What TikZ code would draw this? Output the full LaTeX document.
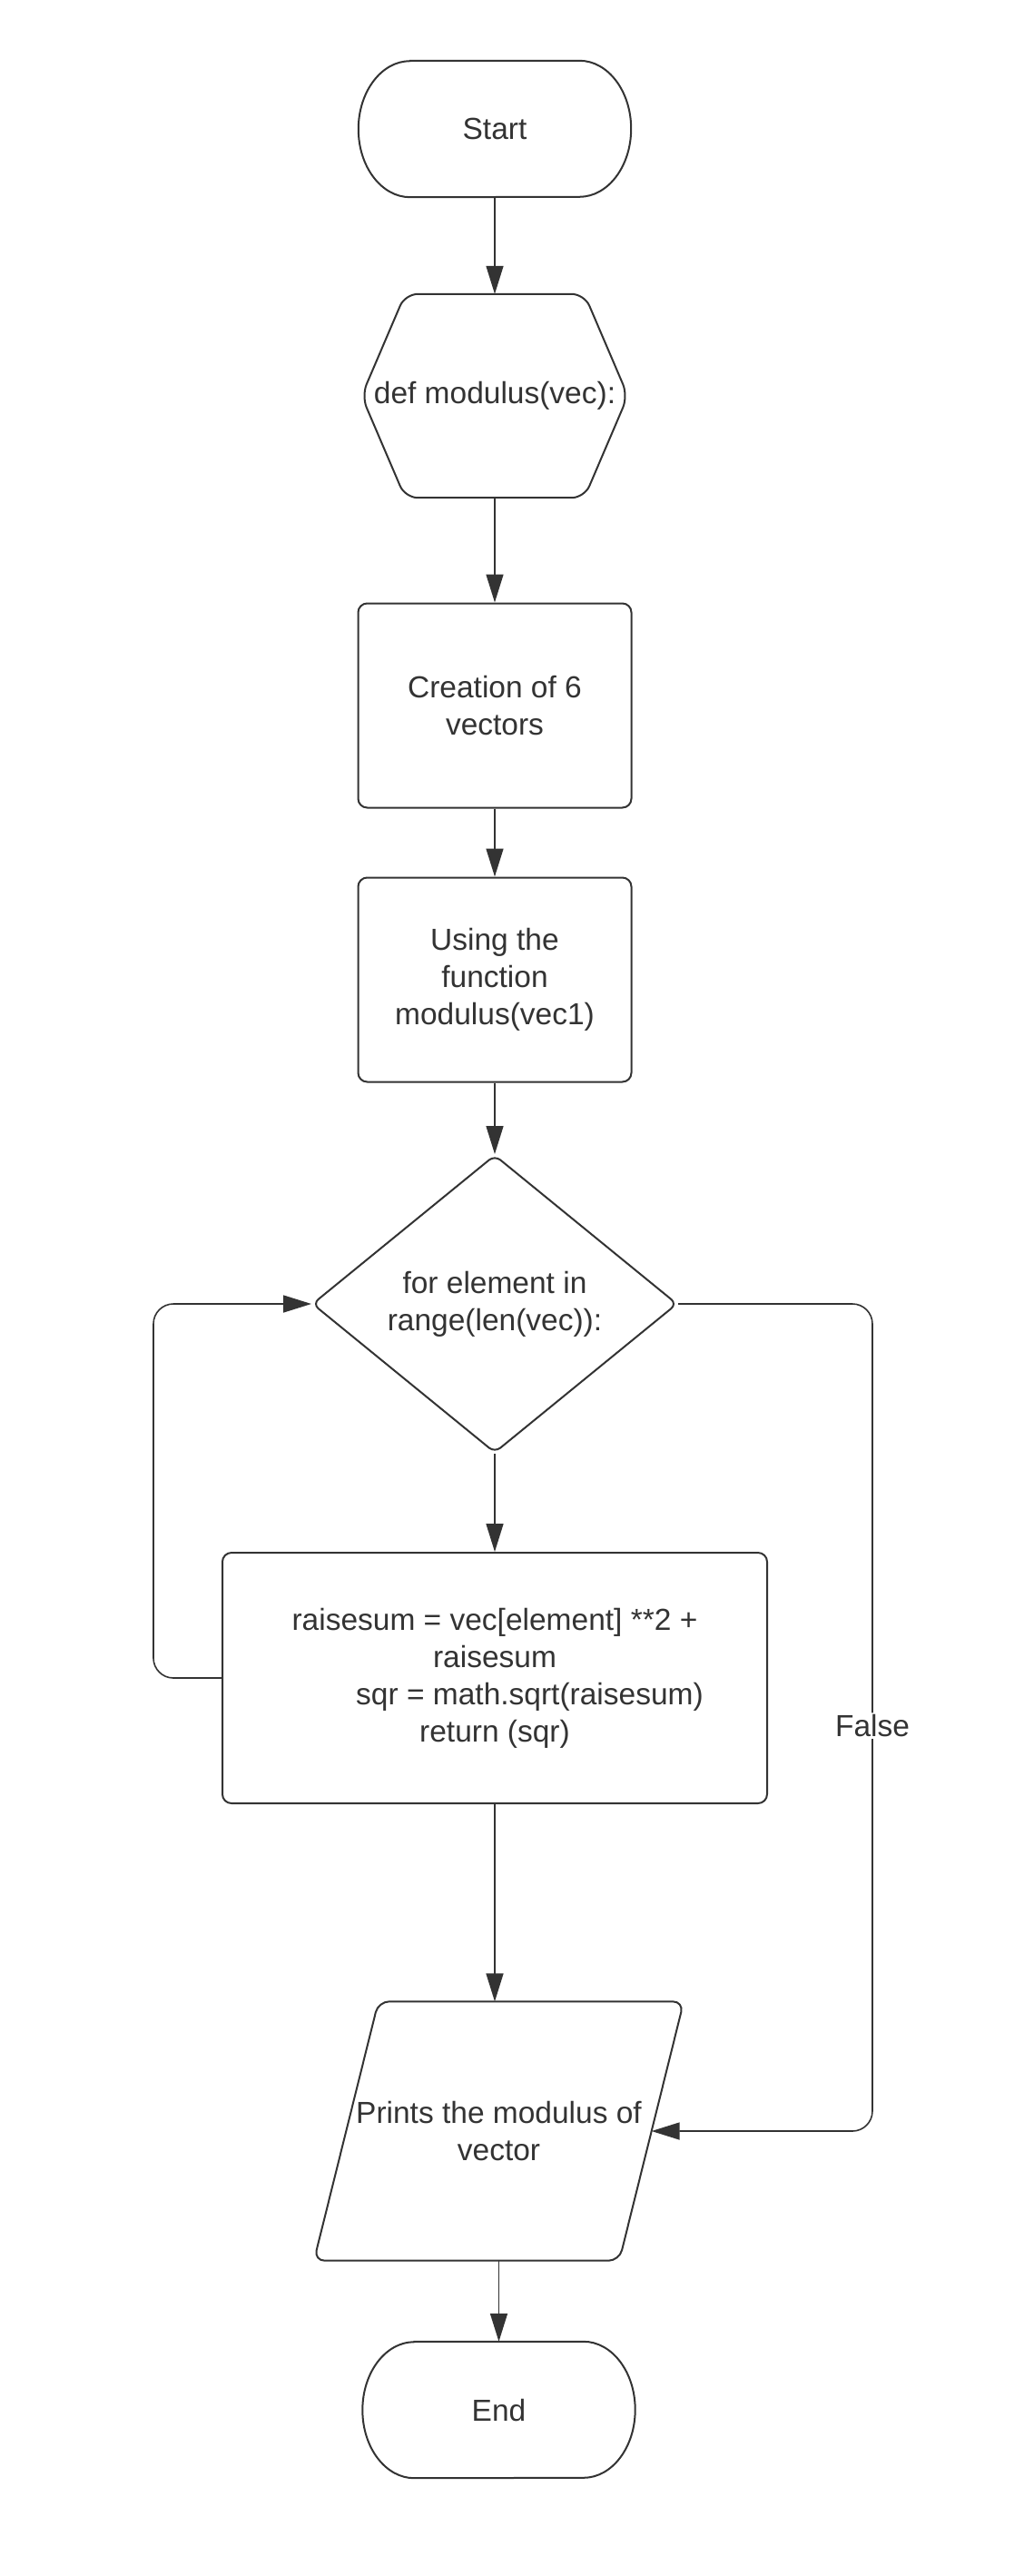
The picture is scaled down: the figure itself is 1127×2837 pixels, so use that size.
\documentclass[tikz,border=0pt]{standalone}
\usepackage{fontspec}
\setmainfont{Liberation Sans}
\usetikzlibrary{calc}
\usetikzlibrary{shapes.geometric}
\usetikzlibrary{arrows.meta}
\definecolor{ink colour}{HTML}{333333}
\tikzset{
    % Solid triangular heads, as the chart uses
    >={Triangle[length=31pt, width=19pt]},
%
    outline/.style={draw=ink colour, line width=2pt},
    flow/.style={color=ink colour, line width=1.6pt, ->},
%
    % Everything is centred, in one sans serif size
    every node/.style={align=center, text=ink colour,
        font=\fontsize{33.5}{41}\selectfont},
}
% Start/end capsule with flattened elliptical ends, drawn round a node
\newcommand{\capsule}[1]{
    \draw [outline]
        ([xshift=57pt]#1.north west) -- ([xshift=-57pt]#1.north east)
        arc [start angle=90, end angle=-90, x radius=57pt, y radius=75pt]
        -- ([xshift=57pt]#1.south west)
        arc [start angle=270, end angle=90, x radius=57pt, y radius=75pt]
        -- cycle;
}

\begin{document}
\begin{tikzpicture}[
    x=1pt, y=-1pt,
    basic node/.style={outline, fill=white},
    terminal/.style={rectangle, minimum width=300pt, minimum height=150pt},
    hex box/.style={rectangle, minimum width=293pt, minimum height=224pt},
    slant box/.style={rectangle, minimum width=336pt, minimum height=285pt},
    step box/.style={basic node, rectangle, rounded corners=10pt,
        minimum width=301pt, minimum height=225pt},
    body box/.style={basic node, rectangle, rounded corners=10pt,
        minimum width=600pt, minimum height=276pt},
    decision/.style={basic node, diamond, aspect=1.23, inner sep=1pt,
        rounded corners=8pt, minimum width=402pt, minimum height=328pt},
]

\useasboundingbox (0,0) rectangle (1127,2837);

\path
    (545,142) node [terminal] (start) {Start}
    ++(0,294) node [hex box] (def) {def modulus(vec):}
    ++(0,341) node [step box] (vectors) {Creation of 6\\vectors}
    ++(0,302) node [step box] (call) {Using the\\function\\modulus(vec1)}
    ++(0,357) node [decision] (for loop) {for element in\\range(len(vec)):}
    ++(0,412) node [body box] (body)
        {raisesum = vec[element] **2 +\\raisesum\\
         \hspace*{77pt}sqr = math.sqrt(raisesum)\\return (sqr)}
    ++(4.5,499) node [slant box] (print) {Prints the modulus of\\vector}
    ++(0,307) node [terminal] (end) {End};

\capsule{start}
\capsule{end}

% Hexagon round the function definition
\draw [outline, rounded corners=14pt]
    (def.north) -- ([xshift=-48pt]def.north east) -- (def.east)
    -- ([xshift=-48pt]def.south east) -- ([xshift=48pt]def.south west)
    -- (def.west) -- ([xshift=48pt]def.north west) -- cycle;

% Parallelogram for the output step
\draw [outline, rounded corners=12pt]
    (print.north) -- ([xshift=35.5pt]print.north east)
    -- ([xshift=-35.5pt]print.south east)
    -- ([xshift=-35.5pt]print.south west)
    -- ([xshift=35.5pt]print.north west) -- cycle;

\draw [flow] (start) -- (def);
\draw [flow] (def) -- (vectors);
\draw [flow] (vectors) -- (call);
\draw [flow] (call) -- (for loop);
\draw [flow] (for loop) -- (body);
\draw [flow] (body.south) -- (body.south |- print.north);
\draw [flow] (end.north |- print.south) -- (end);

% Back to the loop test, and out of it
\draw [flow, rounded corners=22pt]
    (body.west) -- ++(-75,0) |- (for loop.west);
\draw [flow, rounded corners=22pt]
    (for loop.east) -- ++(214,0) |- (print.east)
    node [pos=0.255, fill=white, inner sep=2pt] {False};

\end{tikzpicture}
\end{document}
